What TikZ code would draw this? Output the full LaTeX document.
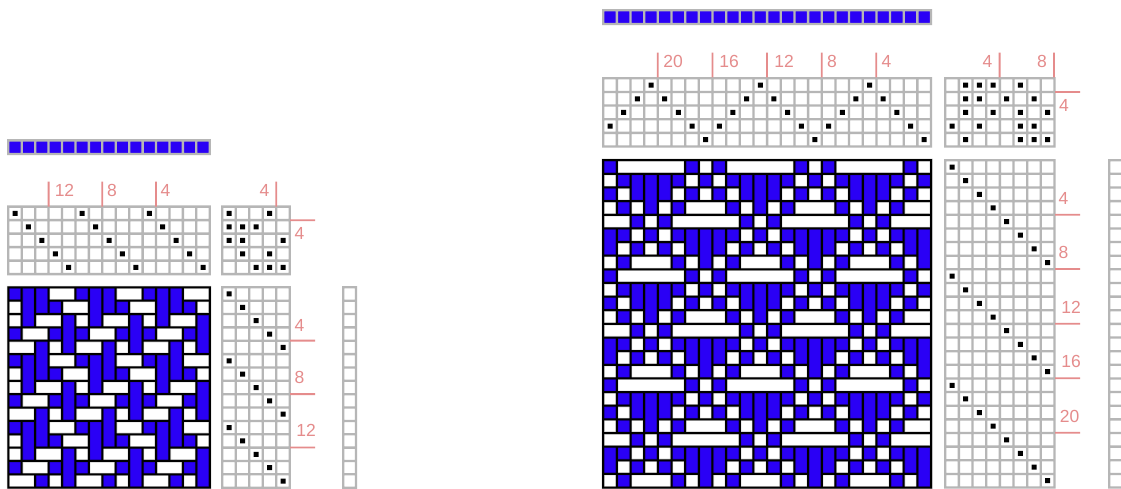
\documentclass[tikz,border=0pt]{standalone}
\usepackage{fontspec}
\setmainfont{Liberation Sans}
\definecolor{wblue}{HTML}{2A00F5}
\definecolor{wgrid}{HTML}{B6B6B6}
\definecolor{wred}{HTML}{E58C8C}
\tikzset{
  gridfill/.style={fill=wgrid,draw=none},
  weavedot/.style={fill=black,draw=none},
  weaveline/.style={fill=black,draw=none},
  weavehalo/.style={fill=black,draw=none,opacity=.2},
  bluecell/.style={fill=wblue,draw=none},
  ticklabel/.style={text=wred,inner sep=0pt,font=\fontsize{17.5}{17.5}\selectfont},
  tick/.style={fill=wred,draw=none}
}
\newcommand{\gw}{1.15}
% #1 x0, #2 y0, #3 px, #4 py, #5 cols, #6 rows, #7 extra style for the cells
\newcommand{\weavegrid}[7]{%
  \fill[#7] (#1,#2) rectangle ({#1+#5*#3},{#2+#6*#4});
  \fill[gridfill]
    foreach \gc in {0,...,#5}{ ({#1+\gc*#3-\gw},{#2-\gw}) rectangle ({#1+\gc*#3+\gw},{#2+#6*#4+\gw}) }
    foreach \gr in {0,...,#6}{ ({#1-\gw},{#2+\gr*#4-\gw}) rectangle ({#1+#5*#3+\gw},{#2+\gr*#4+\gw}) };
}
% #1 x0, #2 y0, #3 px, #4 py, #5 list of col/row
\newcommand{\weavedots}[5]{%
  \fill[weavedot] foreach \dc/\dr in {#5}
    { ({#1+(\dc+.5)*#3-2.5},{#2+(\dr+.5)*#4-2.5}) rectangle ++(5,5) };
}
% #1 x0, #2 y0, #3 px, #4 py, #5 cols, #6 rows, #7 threading array, #8 flat tie-up, #9 treadles
\newcommand{\weavedown}[9]{%
  \pgfmathtruncatemacro{\lastc}{#5-1}\pgfmathtruncatemacro{\lastr}{#6-1}%
  \pgfmathtruncatemacro{\lastcc}{#5-2}\pgfmathtruncatemacro{\lastrr}{#6-2}%
  \fill[white] (#1,#2) rectangle ({#1+#5*#3},{#2+#6*#4});
  \gdef\wbluepath{}\gdef\wlinepath{}%
  \def\wlw{\noexpand\wlw}%
  \foreach \r in {0,...,\lastr}{\foreach \c in {0,...,\lastc}{%
    \pgfmathtruncatemacro{\val}{array({#8},array({#7},\c)*#9+mod(\r,#9))}%
    \expandafter\xdef\csname wc-\r-\c\endcsname{\val}%
    \ifnum\val=1 \xdef\wbluepath{\wbluepath ({#1+\c*#3},{#2+\r*#4}) rectangle ({#1+(\c+1)*#3},{#2+(\r+1)*#4}) }\fi
  }}%
  \foreach \r in {0,...,\lastrr}{\foreach \c in {0,...,\lastc}{%
    \pgfmathtruncatemacro{\rn}{\r+1}%
    \ifnum\csname wc-\r-\c\endcsname\csname wc-\rn-\c\endcsname=11 \else
      \xdef\wlinepath{\wlinepath ({#1+\c*#3-\wlw},{#2+(\r+1)*#4-\wlw}) rectangle ({#1+(\c+1)*#3+\wlw},{#2+(\r+1)*#4+\wlw}) }\fi
  }}%
  \foreach \r in {0,...,\lastr}{\foreach \c in {0,...,\lastcc}{%
    \pgfmathtruncatemacro{\cn}{\c+1}%
    \ifnum\csname wc-\r-\c\endcsname\csname wc-\r-\cn\endcsname=0 \else
      \xdef\wlinepath{\wlinepath ({#1+(\c+1)*#3-\wlw},{#2+\r*#4-\wlw}) rectangle ({#1+(\c+1)*#3+\wlw},{#2+(\r+1)*#4+\wlw}) }\fi
  }}%
  \xdef\wlinepath{\wlinepath
    ({#1-\wlw},{#2-\wlw}) rectangle ({#1+#5*#3+\wlw},{#2+\wlw})
    ({#1-\wlw},{#2+#6*#4-\wlw}) rectangle ({#1+#5*#3+\wlw},{#2+#6*#4+\wlw})
    ({#1-\wlw},{#2-\wlw}) rectangle ({#1+\wlw},{#2+#6*#4+\wlw})
    ({#1+#5*#3-\wlw},{#2-\wlw}) rectangle ({#1+#5*#3+\wlw},{#2+#6*#4+\wlw}) }%
  \fill[bluecell] \wbluepath;
  \def\wlw{1.55}\fill[weavehalo] \wlinepath;
  \def\wlw{1.0}\fill[weaveline] \wlinepath;
}
\begin{document}
\begin{tikzpicture}[x=1pt,y=-1pt]
\useasboundingbox (0,0) rectangle (1121,489);
\clip (0,0) rectangle (1121,489);
\fill[white] (0,0) rectangle (1121,489);

% ---- left draft ----
\weavegrid{8.3}{140.4}{13.43}{13.6}{15}{1}{wblue}
\weavegrid{8.3}{206.6}{13.43}{13.5}{15}{5}{white}
\weavedots{8.3}{206.6}{13.43}{13.5}{0/0,5/0,10/0,1/1,6/1,11/1,2/2,7/2,12/2,3/3,8/3,13/3,4/4,9/4,14/4}
\weavegrid{222.3}{206.6}{13.5}{13.5}{5}{5}{white}
\weavedots{222.3}{206.6}{13.5}{13.5}{0/0,3/0,0/1,1/1,2/1,0/2,1/2,4/2,1/3,3/3,2/4,3/4,4/4}
\weavegrid{222.3}{287.3}{13.5}{13.36}{5}{15}{white}
\weavedots{222.3}{287.3}{13.5}{13.36}{0/0,1/1,2/2,3/3,4/4,0/5,1/6,2/7,3/8,4/9,0/10,1/11,2/12,3/13,4/14}
\weavegrid{343.3}{287.3}{12.7}{13.36}{1}{15}{white}
\weavedown{8.3}{287.3}{13.43}{13.36}{15}{15}{0,1,2,3,4,0,1,2,3,4,0,1,2,3,4}{1,0,0,1,0, 1,1,1,0,0, 1,1,0,0,1, 0,1,0,1,0, 0,0,1,1,1}{5}

\fill[tick]
  (47.7,181.7) rectangle (49.5,206.6)
  (101.4,181.7) rectangle (103.2,206.6)
  (155.1,181.7) rectangle (156.9,206.6)
  (275.4,181.7) rectangle (277.2,206.6)
  (290,219.4) rectangle (315,221.2)
  (290,339.7) rectangle (315,341.5)
  (290,393.2) rectangle (315,395)
  (290,446.6) rectangle (315,448.4);
\node[ticklabel] (lt12) at (64.5,190.7) {12};
\node[ticklabel] (lt8) at (112,190.7) {8};
\node[ticklabel] (lt4) at (165.4,190.7) {4};
\node[ticklabel] (lu4) at (264.5,190.7) {4};
\node[ticklabel] (lv4) at (299.5,233) {4};
\node[ticklabel] (lw4) at (299.5,325) {4};
\node[ticklabel] (lw8) at (299.5,377.7) {8};
\node[ticklabel] (lw12) at (306,430.7) {12};

% ---- right draft ----
\weavegrid{603.2}{10.3}{13.66}{13.7}{24}{1}{wblue}
\weavegrid{603.2}{78.3}{13.66}{13.65}{24}{5}{white}
\weavedots{603.2}{78.3}{13.66}{13.65}{3/0,11/0,19/0,2/1,4/1,10/1,12/1,18/1,20/1,1/2,5/2,9/2,13/2,17/2,21/2,0/3,6/3,8/3,14/3,16/3,22/3,7/4,15/4,23/4}
\weavegrid{945.2}{78.3}{13.66}{13.65}{8}{5}{white}
\weavedots{945.2}{78.3}{13.66}{13.65}{1/0,2/0,3/0,5/0,1/1,2/1,4/1,6/1,1/2,3/2,5/2,7/2,0/3,2/3,5/3,6/3,1/4,5/4,6/4,7/4}
\weavegrid{945.2}{160.2}{13.66}{13.64}{8}{24}{white}
\weavedots{945.2}{160.2}{13.66}{13.64}{0/0,1/1,2/2,3/3,4/4,5/5,6/6,7/7,0/8,1/9,2/10,3/11,4/12,5/13,6/14,7/15,0/16,1/17,2/18,3/19,4/20,5/21,6/22,7/23}
\weavegrid{1109.3}{160.2}{13.66}{13.64}{1}{24}{white}
\weavedown{603.2}{160.2}{13.66}{13.64}{24}{24}{3,2,1,0,1,2,3,4,3,2,1,0,1,2,3,4,3,2,1,0,1,2,3,4}{0,1,1,1,0,1,0,0, 0,1,1,0,1,0,1,0, 0,1,0,1,0,1,0,1, 1,0,1,0,0,1,1,0, 0,1,0,0,0,1,1,1}{8}

\fill[tick]
  (656.9,52.7) rectangle (658.7,77.5)
  (711.5,52.7) rectangle (713.3,77.5)
  (766.1,52.7) rectangle (767.9,77.5)
  (820.8,52.7) rectangle (822.6,77.5)
  (875.4,52.7) rectangle (877.2,77.5)
  (998.7,52.7) rectangle (1000.5,77.5)
  (1053,52.7) rectangle (1054.8,77.5)
  (1055,91.1) rectangle (1080,92.9)
  (1055,213.8) rectangle (1080,215.6)
  (1055,268.1) rectangle (1080,269.9)
  (1055,322.8) rectangle (1080,324.6)
  (1055,377.4) rectangle (1080,379.2)
  (1055,431.8) rectangle (1080,433.6);
\node[ticklabel] (rt20) at (673,61) {20};
\node[ticklabel] (rt16) at (729,61) {16};
\node[ticklabel] (rt12) at (784,61) {12};
\node[ticklabel] (rt8) at (832,61) {8};
\node[ticklabel] (rt4) at (886.5,61) {4};
\node[ticklabel] (ru4) at (987.5,61.7) {4};
\node[ticklabel] (ru8) at (1042,61.7) {8};
\node[ticklabel] (rv4) at (1064,105.7) {4};
\node[ticklabel] (rw4) at (1063.5,198) {4};
\node[ticklabel] (rw8) at (1063.5,252.3) {8};
\node[ticklabel] (rw12) at (1071,307.3) {12};
\node[ticklabel] (rw16) at (1071,361.7) {16};
\node[ticklabel] (rw20) at (1069.5,416) {20};
\end{tikzpicture}
\end{document}
